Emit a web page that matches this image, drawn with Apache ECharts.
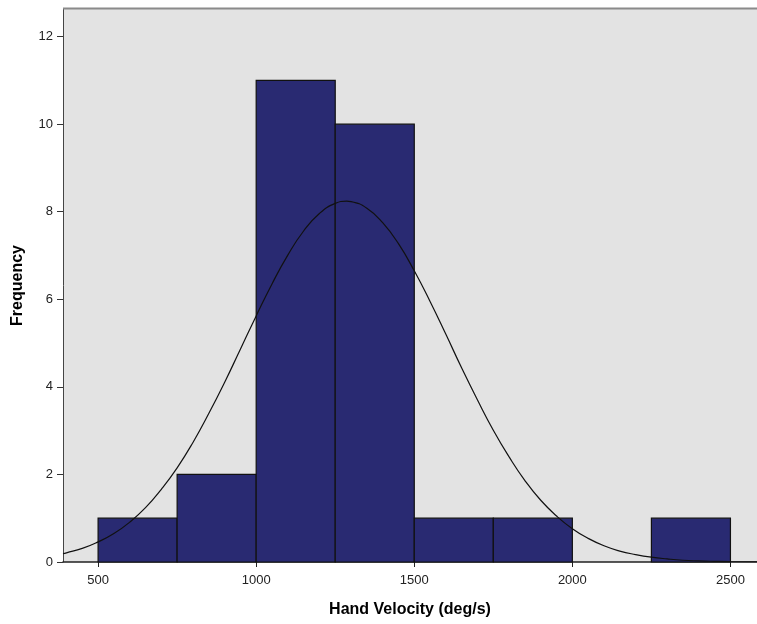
<!DOCTYPE html>
<html>
<head>
<meta charset="utf-8">
<script src="https://cdn.jsdelivr.net/npm/echarts@6/dist/echarts.min.js"></script>
<style>html,body{margin:0;padding:0;background:#fff}#c{width:757px;height:624px}</style>
</head>
<body>
<div id="c"></div>
<script>
// Histogram bins (lower edge, upper edge) and counts
const binStarts = [500, 750, 1000, 1250, 1500, 1750, 2000, 2250];
const binEnds   = [750, 1000, 1250, 1500, 1750, 2000, 2250, 2500];
const counts    = [1, 2, 11, 10, 1, 1, 0, 1];
// Normal curve, values
const curveX = [389, 400, 450, 500, 550, 600, 650, 700, 750, 800, 850, 900, 950, 1000, 1050, 1100, 1150, 1200, 1250, 1286, 1300, 1350, 1400, 1450, 1500, 1550, 1600, 1650, 1700, 1750, 1800, 1850, 1900, 1950, 2000, 2050, 2100, 2150, 2200, 2250, 2300, 2350, 2400, 2450, 2500, 2584];
const curveY = [0.19, 0.21, 0.31, 0.46, 0.65, 0.91, 1.24, 1.66, 2.15, 2.73, 3.39, 4.1, 4.86, 5.62, 6.35, 7.01, 7.56, 7.96, 8.19, 8.24, 8.23, 8.08, 7.75, 7.27, 6.65, 5.95, 5.2, 4.43, 3.7, 3.01, 2.4, 1.86, 1.41, 1.05, 0.76, 0.54, 0.37, 0.25, 0.17, 0.11, 0.07, 0.04, 0.025, 0.015, 0.008, 0.003];
const xTicks = [500, 1000, 1500, 2000, 2500];
const yTicks = [0, 2, 4, 6, 8, 10, 12];

const barData = binStarts.map((s, i) => [s, binEnds[i], counts[i]]).filter(d => d[2] > 0);
const lineData = curveX.map((x, i) => [x, curveY[i]]);

const chart = echarts.init(document.getElementById('c'), null, {renderer: 'canvas'});
chart.setOption({
  animation: false,
  grid: {left: 63, top: 9, right: 0, bottom: 62, show: true, backgroundColor: '#e3e3e3', borderWidth: 0},
  xAxis: {
    type: 'value', min: 389, max: 2584,
    name: 'Hand Velocity (deg/s)', nameLocation: 'middle', nameGap: 40,
    nameTextStyle: {fontFamily: 'Liberation Sans', fontWeight: 'bold', fontSize: 16, color: '#000'},
    axisLine: {show: true, onZero: false, lineStyle: {color: '#222', width: 1.5}},
    axisTick: {show: true, length: 5, lineStyle: {color: '#222'}, customValues: xTicks},
    axisLabel: {fontFamily: 'Liberation Sans', fontSize: 13, color: '#222', margin: 12, customValues: xTicks, formatter: v => String(v)},
    splitLine: {show: false}
  },
  yAxis: {
    type: 'value', min: 0, max: 12.63,
    name: 'Frequency', nameLocation: 'middle', nameGap: 37,
    nameTextStyle: {fontFamily: 'Liberation Sans', fontWeight: 'bold', fontSize: 16, color: '#000'},
    axisLine: {show: true, lineStyle: {color: '#444', width: 1}},
    axisTick: {show: true, length: 6, lineStyle: {color: '#333'}, customValues: yTicks},
    axisLabel: {fontFamily: 'Liberation Sans', fontSize: 13, color: '#222', margin: 10, customValues: yTicks, formatter: v => String(v)},
    splitLine: {show: false}
  },
  series: [
    {
      type: 'custom',
      data: barData,
      encode: {x: [0, 1], y: 2},
      renderItem: function (params, api) {
        const p0 = api.coord([api.value(0), api.value(2)]);
        const p1 = api.coord([api.value(1), 0]);
        return {
          type: 'rect',
          shape: {x: p0[0], y: p0[1], width: p1[0] - p0[0], height: p1[1] - p0[1]},
          style: {fill: '#292a72', stroke: '#111', lineWidth: 1.2}
        };
      },
      z: 2
    },
    {
      type: 'line', data: lineData, smooth: true, showSymbol: false,
      lineStyle: {color: '#111', width: 1.2}, z: 3
    }
  ],
  graphic: [
    {type: 'line', shape: {x1: 63, y1: 8.5, x2: 757, y2: 8.5}, style: {stroke: '#8a8a8a', lineWidth: 2}, z: 10}
  ]
});
</script>
</body>
</html>
